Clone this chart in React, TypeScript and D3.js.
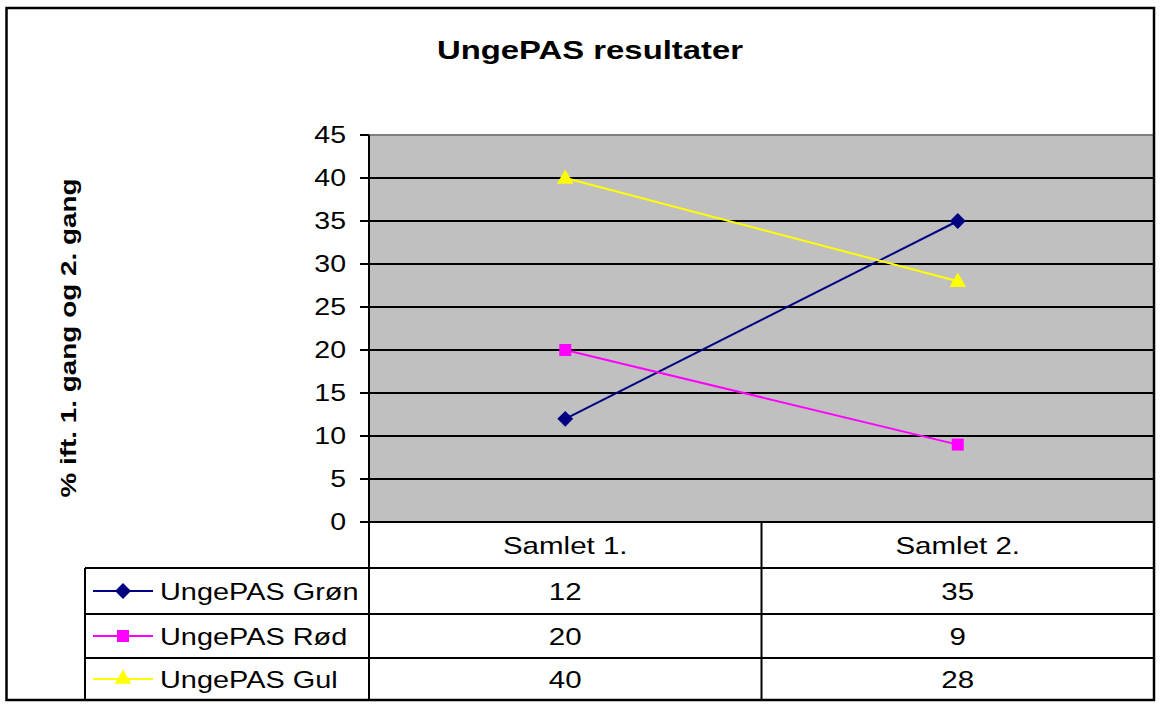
import React from 'react';
import * as d3 from 'd3';

const categories = ['Samlet 1.', 'Samlet 2.'];
const seriesNames = ['UngePAS Grøn', 'UngePAS Rød', 'UngePAS Gul'];
const groenValues = [12, 35];
const roedValues = [20, 9];
const gulValues = [40, 28];
const yTicks = [0, 5, 10, 15, 20, 25, 30, 35, 40, 45];

const series = [
  { name: seriesNames[0], values: groenValues, color: '#000080', marker: 'diamond' },
  { name: seriesNames[1], values: roedValues, color: '#FF00FF', marker: 'square' },
  { name: seriesNames[2], values: gulValues, color: '#FFFF00', marker: 'triangle' },
];

const W = 1164, H = 716;
const plotL = 369, plotR = 1154, plotT = 135, plotB = 522;
const tableL = 85;
const rowEdges = [522, 568, 614, 658, 700];
const SX = 1.24; // horizontal text stretch seen in the reference
const FONT = 'Liberation Sans, Arial, sans-serif';

const T = ({ x, y, anchor = 'start', size = 22, bold = false, rotate = 0, children }: any) => (
  <text
    transform={`translate(${x},${y}) rotate(${rotate}) scale(${SX},1)`}
    textAnchor={anchor}
    fontSize={size}
    fontWeight={bold ? 'bold' : 'normal'}
    fontFamily={FONT}
    fill="#000"
  >
    {children}
  </text>
);

const markerPath = (type: string) => {
  if (type === 'diamond') return d3.symbol(d3.symbolDiamond2, 160)();
  if (type === 'square') return d3.symbol(d3.symbolSquare, 144)();
  return d3.symbol(d3.symbolTriangle, 120)();
};

export default function App() {
  const x = d3.scaleBand().domain(categories).range([plotL, plotR]);
  const y = d3.scaleLinear().domain([0, 45]).range([plotB, plotT]);
  const cx = (c: string) => (x(c) as number) + x.bandwidth() / 2;

  const line = d3.line<number>()
    .x((_, i) => cx(categories[i]))
    .y(d => y(d));

  return (
    <svg width={W} height={H} style={{ position: 'absolute', left: 0, top: 0, background: '#fff' }}>
      {/* title */}
      <T x={590} y={59} anchor="middle" size={26.5} bold>UngePAS resultater</T>

      {/* y label */}
      <T x={76} y={338} anchor="middle" size={22.5} bold rotate={-90}>% ift. 1. gang og 2. gang</T>

      {/* plot area */}
      <rect x={plotL} y={plotT} width={plotR - plotL} height={plotB - plotT} fill="#C0C0C0" />
      <path d={`M${plotL},${plotT}H${plotR}V${plotB}`} fill="none" stroke="#808080" strokeWidth={2} />
      {yTicks.filter(t => t > 0 && t < 45).map(t => (
        <line key={t} x1={plotL} x2={plotR} y1={y(t)} y2={y(t)} stroke="#000" strokeWidth={2} />
      ))}

      {/* y axis */}
      <line x1={plotL} x2={plotL} y1={plotT} y2={rowEdges[4]} stroke="#000" strokeWidth={2} />
      {yTicks.map(t => (
        <g key={t}>
          <line x1={360} x2={plotL} y1={y(t)} y2={y(t)} stroke="#000" strokeWidth={2} />
          <T x={346} y={y(t) + 8} anchor="end" size={23}>{String(t)}</T>
        </g>
      ))}

      {/* series */}
      {series.map(s => (
        <g key={s.name}>
          <path d={line(s.values) as string} fill="none" stroke={s.color} strokeWidth={2} />
          {s.values.map((v, i) => (
            <path key={i} d={markerPath(s.marker) as string}
              transform={`translate(${cx(categories[i])},${y(v) + (s.marker === 'triangle' ? 1 : 0)})`}
              fill={s.color} />
          ))}
        </g>
      ))}

      {/* data table */}
      <g stroke="#000" strokeWidth={2} fill="none">
        <line x1={plotL} x2={plotR} y1={rowEdges[0]} y2={rowEdges[0]} />
        <line x1={tableL} x2={plotR} y1={rowEdges[1]} y2={rowEdges[1]} />
        <line x1={tableL} x2={plotR} y1={rowEdges[2]} y2={rowEdges[2]} />
        <line x1={tableL} x2={plotR} y1={rowEdges[3]} y2={rowEdges[3]} />
        <line x1={tableL} x2={plotR} y1={rowEdges[4]} y2={rowEdges[4]} />
        <line x1={tableL} x2={tableL} y1={rowEdges[1]} y2={rowEdges[4]} />
        <line x1={x(categories[1]) as number} x2={x(categories[1]) as number} y1={rowEdges[0]} y2={rowEdges[4]} />
      </g>
      {categories.map(c => (
        <T key={c} x={cx(c)} y={(rowEdges[0] + rowEdges[1]) / 2 + 8.5} anchor="middle" size={23.8}>{c}</T>
      ))}
      {series.map((s, r) => {
        const my = (rowEdges[r + 1] + rowEdges[r + 2]) / 2;
        return (
          <g key={s.name}>
            <line x1={93} x2={153} y1={my} y2={my} stroke={s.color} strokeWidth={2} />
            <path d={markerPath(s.marker) as string} transform={`translate(123,${my})`} fill={s.color} />
            <T x={160} y={my + 8.5} size={23.3}>{s.name}</T>
            {s.values.map((v, i) => (
              <T key={i} x={cx(categories[i])} y={my + 8.5} anchor="middle" size={23.8}>{String(v)}</T>
            ))}
          </g>
        );
      })}

      {/* outer frame */}
      <rect x={6.5} y={8} width={1147.5} height={692} fill="none" stroke="#000" strokeWidth={2.5} />
    </svg>
  );
}
